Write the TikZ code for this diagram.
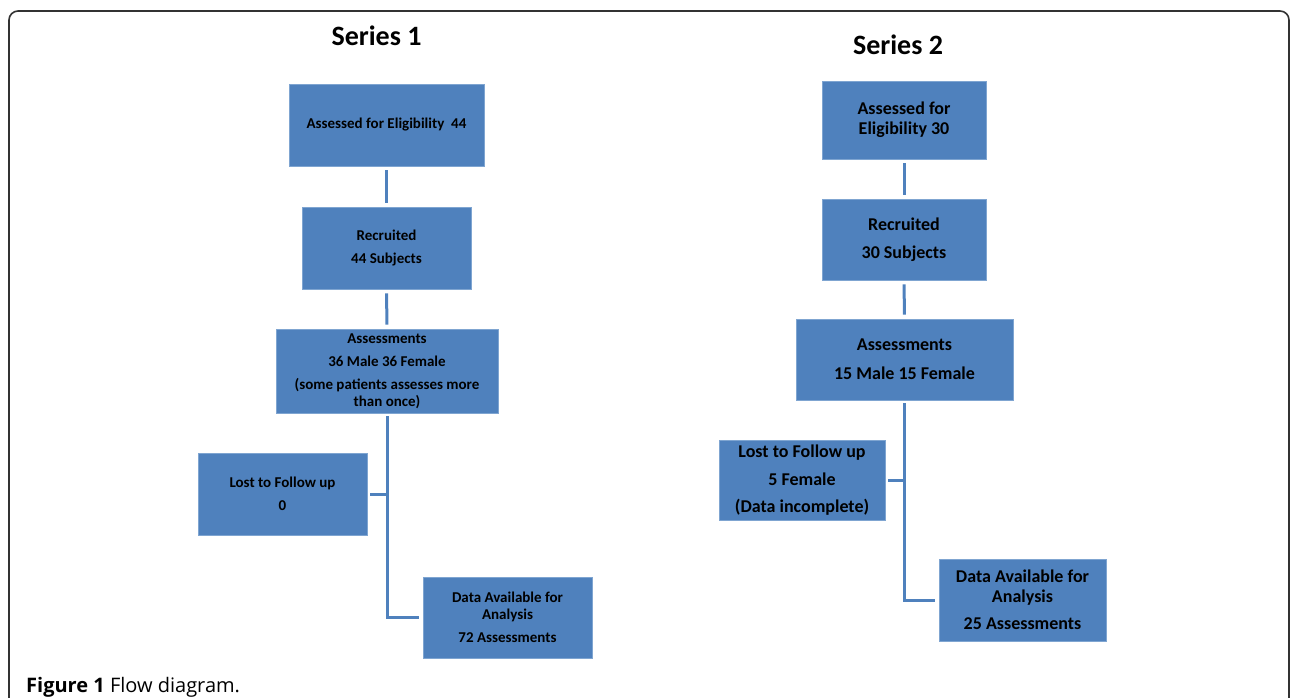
\documentclass[tikz,border=0pt]{standalone}
\usepackage{fontspec}
\setmainfont{Carlito}
\newfontfamily\capfont{Open Sans}
\usetikzlibrary{positioning}
\definecolor{boxblue}{HTML}{4F81BD}
\definecolor{boxedge}{HTML}{7FA5D1}
\definecolor{framegray}{HTML}{333333}
\tikzset{
	box/.style={draw=boxedge, line width=0.8pt, fill=boxblue, text=black, align=center, inner sep=2pt, font=\bfseries},
	small/.style={font=\bfseries\fontsize{15}{17}\selectfont},
	large/.style={font=\bfseries\fontsize{18}{20}\selectfont},
	heading/.style={anchor=base, font=\bfseries\fontsize{28}{32}\selectfont},
	link/.style={draw=boxblue, line width=3pt},
}
\newcommand{\flowBox}[5][]{
	\path (#2,#3) node[box, #1](#4){#5};
}
\newcommand{\link}[3][]{
	\draw[link, shorten <=4pt, shorten >=4pt, #1] (#2) -- (#3);
}
\newcommand{\branch}[3][]{
	\draw[link, shorten <=3pt, shorten >=4pt, #1] (#2) |- (#3);
}

\begin{document}
\begin{tikzpicture}[x=1pt, y=-1pt]
	\useasboundingbox (0,0) rectangle (1290,697);
	\draw[framegray, line width=1.6pt, rounded corners=9pt] (9,705) -- (9,11) -- (1289,11) -- (1289,705);

	% series 1
	\node[heading] (title1) at (376.5,45) {Series 1};
	\flowBox[small, minimum width=195pt, minimum height=82pt]{386.5}{125}{elig1}{Assessed for Eligibility~~44};
	\flowBox[small, minimum width=169pt, minimum height=82pt]{386.5}{248}{recr1}{Recruited\\[6pt]44 Subjects};
	\flowBox[small, minimum width=222pt, minimum height=84pt]{387}{371}{assess1}{Assessments\\[6pt]36 Male 36 Female\\[6pt](some patients assesses more\\than once)};
	\flowBox[small, minimum width=169pt, minimum height=82pt]{282.5}{494}{lost1}{Lost to Follow up\\[6pt]0};
	\flowBox[small, minimum width=169pt, minimum height=81pt]{507.5}{617.5}{data1}{Data Available for\\Analysis\\[6pt]72 Assessments};

	\link{elig1.south}{recr1.north};
	\link{recr1.south}{assess1.north};
	\branch{assess1.south}{data1.west};
	\draw[link, shorten <=3pt] (lost1.east) -- (lost1.east -| assess1.south);

	% series 2
	\node[heading] (title2) at (898,54) {Series 2};
	\flowBox[large, minimum width=164pt, minimum height=78pt]{904}{120}{elig2}{Assessed for\\Eligibility 30};
	\flowBox[large, minimum width=164pt, minimum height=81pt]{904}{239.5}{recr2}{Recruited\\[8pt]30 Subjects};
	\flowBox[large, minimum width=217pt, minimum height=81pt]{904.5}{359.5}{assess2}{Assessments\\[9pt]15 Male 15 Female};
	\flowBox[large, minimum width=166pt, minimum height=80pt]{802}{480}{lost2}{Lost to Follow up\\[8pt]5 Female\\[7pt](Data incomplete)};
	\flowBox[large, minimum width=167pt, minimum height=82pt]{1022.5}{600}{data2}{Data Available for\\Analysis\\[7pt]25 Assessments};

	\link{elig2.south}{recr2.north};
	\link{recr2.south}{assess2.north};
	\branch{assess2.south}{data2.west};
	\draw[link, shorten <=3pt] (lost2.east) -- (lost2.east -| assess2.south);

	% caption
	\node[anchor=base west, inner sep=0pt, font=\capfont\fontsize{20}{22}\selectfont] (caption) at (26,692) {\textbf{Figure 1}~Flow diagram.};
\end{tikzpicture}
\end{document}
